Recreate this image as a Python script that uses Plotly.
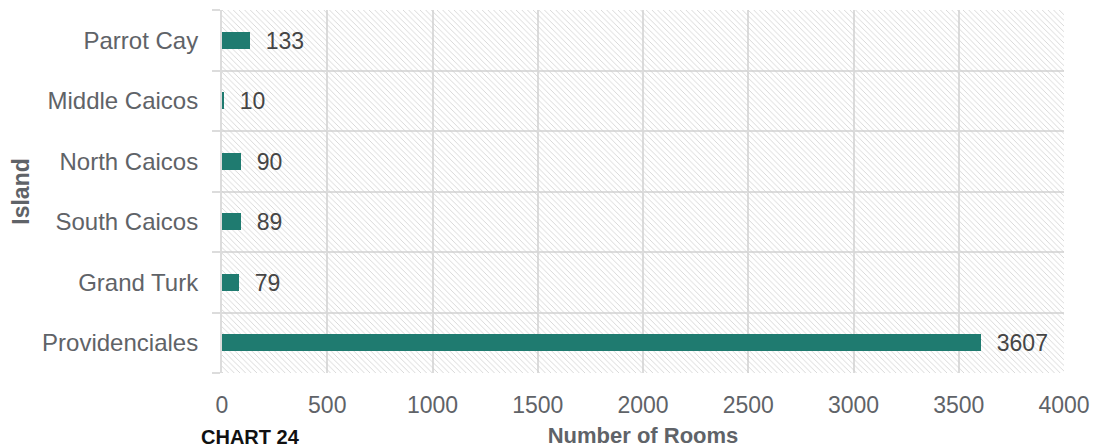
import plotly.graph_objects as go

islands = ["Providenciales", "Grand Turk", "South Caicos", "North Caicos", "Middle Caicos", "Parrot Cay"]
rooms = [3607, 79, 89, 90, 10, 133]
x_ticks = [0, 500, 1000, 1500, 2000, 2500, 3000, 3500, 4000]

BAR = "#1f7b70"
GRID = "#dcdcdc"
TXT = "#5f6368"
FONT = "Liberation Sans, Arial, sans-serif"

fig = go.Figure()

# hatched plot background (base subplot, hidden axes)
fig.add_trace(go.Bar(
    x=[1], y=[0.5], width=[1], orientation="h",
    xaxis="x", yaxis="y",
    marker=dict(color="rgba(0,0,0,0)", line=dict(width=0),
                pattern=dict(shape="\\", fgcolor="#d0d0d0", bgcolor="rgba(0,0,0,0)",
                             size=4, solidity=0.2, fillmode="replace")),
    hoverinfo="skip", showlegend=False,
))

fig.add_trace(go.Bar(
    x=rooms, y=islands, orientation="h",
    xaxis="x2", yaxis="y2",
    marker=dict(color=BAR, line=dict(width=0)),
    width=0.28,
    text=[f"\u00a0\u00a0{v}" for v in rooms],
    textposition="outside",
    constraintext="none",
    textfont=dict(family=FONT, size=23, color="#454545"),
    cliponaxis=False,
    showlegend=False,
))

fig.update_layout(
    width=1093, height=448,
    margin=dict(l=222, r=29, t=10, b=75, autoexpand=False),
    paper_bgcolor="white", plot_bgcolor="white",
    font=dict(family=FONT, color=TXT),
    xaxis=dict(range=[0, 1], visible=False),
    yaxis=dict(range=[0, 1], visible=False),
    xaxis2=dict(overlaying="x", side="bottom", range=[0, 4000], tickvals=x_ticks,
                ticktext=[str(t) for t in x_ticks], automargin=False,
                showgrid=True, gridcolor=GRID, gridwidth=2, zeroline=False,
                showline=False, ticks="", tickfont=dict(size=23, color=TXT),
                ticklabelstandoff=16,
                title=dict(text="Number of Rooms", font=dict(size=22, color=TXT, weight=600), standoff=12)),
    yaxis2=dict(overlaying="y", side="left", type="category", categoryorder="array",
                categoryarray=islands, automargin=False,
                tickson="boundaries", showgrid=True, gridcolor=GRID, gridwidth=2,
                ticks="outside", ticklen=8, tickcolor=GRID, tickwidth=2,
                showline=True, linecolor=GRID, linewidth=2,
                tickfont=dict(size=24, color=TXT), ticklabelstandoff=17,
                title=dict(text="Island", font=dict(size=23, color=TXT, weight=600), standoff=6)),
    bargap=0,
    annotations=[dict(text="CHART 24", xref="paper", yref="paper", x=-0.027, y=-0.176,
                      xanchor="left", yanchor="middle", showarrow=False,
                      font=dict(family=FONT, size=20, color="#111111", weight=600))],
)

fig.write_html("out.html")
